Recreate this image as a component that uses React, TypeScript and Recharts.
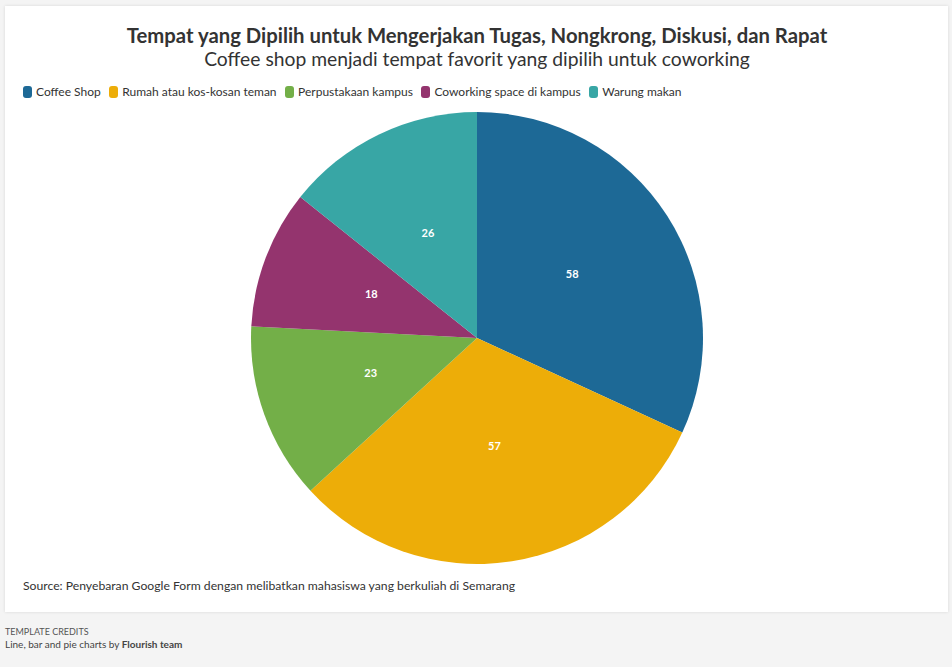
import React from "react";
import { PieChart, Pie, Cell } from "recharts";

const categories = [
  "Coffee Shop",
  "Rumah atau kos-kosan teman",
  "Perpustakaan kampus",
  "Coworking space di kampus",
  "Warung makan",
];
const values = [58, 57, 23, 18, 26];
const colors = ["#1D6996", "#EDAD08", "#73AF48", "#94346E", "#38A6A5"];

const data = categories.map((name, i) => ({ name, value: values[i] }));

const FONT = "'Source Sans Pro', Lato, 'Noto Sans', sans-serif";
const RAD = Math.PI / 180;

const renderLabel = (props: any) => {
  const { cx, cy, midAngle, outerRadius, value } = props;
  const r = outerRadius * 0.5;
  const x = cx + r * Math.cos(-midAngle * RAD);
  const y = cy + r * Math.sin(-midAngle * RAD) - 4;
  return (
    <text
      x={x}
      y={y}
      fill="#ffffff"
      textAnchor="middle"
      dominantBaseline="central"
      fontFamily={FONT}
      fontSize={11}
      fontWeight={700}
    >
      {value}
    </text>
  );
};

export default function App() {
  return (
    <div
      style={{
        position: "absolute",
        left: 0,
        top: 0,
        width: 952,
        height: 667,
        background: "#f4f4f4",
        fontFamily: FONT,
        overflow: "hidden",
      }}
    >
      <div
        style={{
          position: "absolute",
          left: 5,
          top: 6,
          width: 943,
          height: 606,
          background: "#ffffff",
          boxShadow: "0 0 3px rgba(0,0,0,0.12)",
        }}
      />
      <div
        style={{
          position: "absolute",
          left: 0,
          top: 23,
          width: 954,
          textAlign: "center",
          fontSize: 20.3,
          fontWeight: 700,
          color: "#333333",
          lineHeight: "24px",
        }}
      >
        Tempat yang Dipilih untuk Mengerjakan Tugas, Nongkrong, Diskusi, dan Rapat
      </div>
      <div
        style={{
          position: "absolute",
          left: 0,
          top: 47,
          width: 954,
          textAlign: "center",
          fontSize: 19.3,
          fontWeight: 400,
          color: "#333333",
          lineHeight: "24px",
        }}
      >
        Coffee shop menjadi tempat favorit yang dipilih untuk coworking
      </div>
      <div
        style={{
          position: "absolute",
          left: 23,
          top: 84,
          display: "flex",
          alignItems: "center",
          fontSize: 12,
          color: "#333333",
          lineHeight: "16px",
        }}
      >
        {categories.map((c, i) => (
          <div
            key={c}
            style={{ display: "flex", alignItems: "center", marginRight: 8.5 }}
          >
            <span
              style={{
                display: "inline-block",
                width: 9,
                height: 12,
                borderRadius: 3,
                background: colors[i],
                marginRight: 4,
              }}
            />
            <span>{c}</span>
          </div>
        ))}
      </div>
      <div style={{ position: "absolute", left: 0, top: 0 }}>
        <PieChart
          width={952}
          height={667}
          margin={{ top: 0, right: 0, bottom: 0, left: 0 }}
        >
          <Pie
            data={data}
            dataKey="value"
            nameKey="name"
            cx={477}
            cy={338}
            outerRadius={226}
            startAngle={90}
            endAngle={-270}
            stroke="none"
            label={renderLabel}
            labelLine={false}
            isAnimationActive={false}
          >
            {data.map((d, i) => (
              <Cell key={d.name} fill={colors[i]} />
            ))}
          </Pie>
        </PieChart>
      </div>
      <div
        style={{
          position: "absolute",
          left: 23,
          top: 577,
          fontSize: 12.2,
          color: "#333333",
          lineHeight: "18px",
        }}
      >
        Source: Penyebaran Google Form dengan melibatkan mahasiswa yang berkuliah di Semarang
      </div>
      <div
        style={{
          position: "absolute",
          left: 5,
          top: 626,
          fontSize: 9,
          color: "#555555",
          lineHeight: "12px",
        }}
      >
        TEMPLATE CREDITS
      </div>
      <div
        style={{
          position: "absolute",
          left: 5,
          top: 638,
          fontSize: 10,
          color: "#444444",
          lineHeight: "12px",
        }}
      >
        Line, bar and pie charts by <b>Flourish team</b>
      </div>
    </div>
  );
}
